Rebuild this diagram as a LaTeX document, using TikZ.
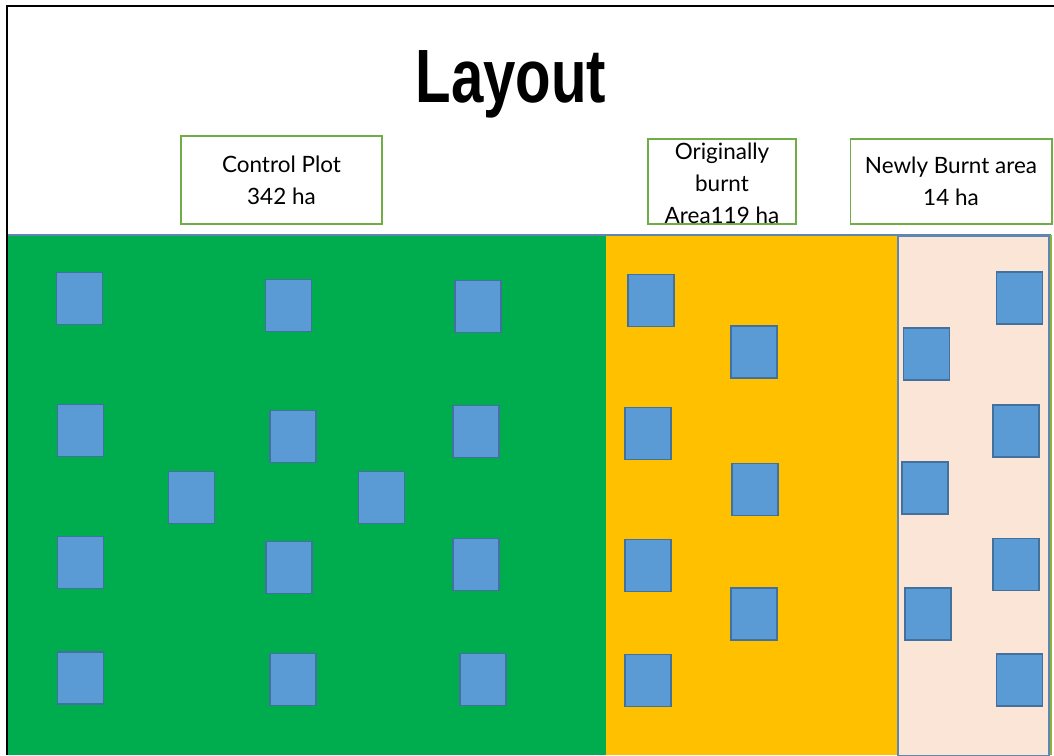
\documentclass[tikz,border=0pt]{standalone}
\usepackage{fontspec}
\setmainfont{Lato}
\newfontfamily\titlefont{Liberation Sans}
\usetikzlibrary{positioning}
\definecolor{controlgreen}{HTML}{00AD4E}
\definecolor{oldburn}{HTML}{FFC000}
\definecolor{newburn}{HTML}{FBE5D6}
\definecolor{quadblue}{HTML}{5B9BD5}
\definecolor{quadedge}{HTML}{41719C}
\definecolor{boxgreen}{HTML}{70AD47}
\definecolor{bandedge}{HTML}{5E86B3}

\begin{document}
\begin{tikzpicture}[x=0.02cm,y=-0.02cm]
\tikzset{quadrat/.style={draw=quadedge,fill=quadblue,line width=0.6pt,
minimum width=0.92cm,minimum height=1.04cm,inner sep=0pt}}
\tikzset{labelbox/.style={draw=boxgreen,line width=0.6pt,inner sep=0pt}}
\tikzset{labeltext/.style={align=center,font=\fontsize{12.8}{18.2}\selectfont}}
\useasboundingbox (0,0) rectangle (1054,755);
% frame
\draw[line width=1.1pt] (7,755) -- (7,6) -- (1054,6);
% title
\node (title) at (511,84) {\titlefont\bfseries\fontsize{43}{50}\selectfont\scalebox{0.77}[1]{Layout}};
% the three areas
\fill[controlgreen] (8,235) rectangle (606,755);
\fill[oldburn] (606,235) rectangle (897,755);
\draw[bandedge,fill=newburn,line width=0.6pt] (898,236) rectangle (1049,756);
\draw[bandedge,line width=0.7pt] (8,235) -- (1051,235);
\draw[boxgreen!80!oldburn,line width=1pt] (1051,235) -- (1051,755);
% labels
\node[labelbox,minimum width=4.02cm,minimum height=1.76cm] (control) at (281.5,180) {};
\node[labeltext] at (control) {Control Plot\\342 ha};
\node[labelbox,minimum width=2.96cm,minimum height=1.7cm] (original) at (722,181.5) {};
\node[labeltext] at ([yshift=-0.04cm]original) {Originally\\burnt\\Area119 ha};
\node[labelbox,minimum width=4.04cm,minimum height=1.7cm] (newly) at (951,181.5) {};
\node[labeltext] at (newly) {Newly Burnt area\\14 ha};
% sampling quadrats
\foreach \x/\y [count=\i] in {79.5/298.5,288.5/305.5,478/306.5,80.5/430.5,293/436.5,476/431.5,
191.5/497.5,381.5/497.5,80.5/562.5,289/567.5,476/564.5,80.5/678,293/679.5,483/679.5}
  \node[quadrat] (c\i) at (\x,\y) {};
\foreach \x/\y [count=\i] in {651/300.5,754/352,648/433.5,755/489.5,648/565.5,754/614,648/680.5}
  \node[quadrat] (o\i) at (\x,\y) {};
\foreach \x/\y [count=\i] in {1019.5/298,926.5/354,1016/431,925/488,1016/564.5,928/614,1019.5/680}
  \node[quadrat] (n\i) at (\x,\y) {};
\end{tikzpicture}
\end{document}
